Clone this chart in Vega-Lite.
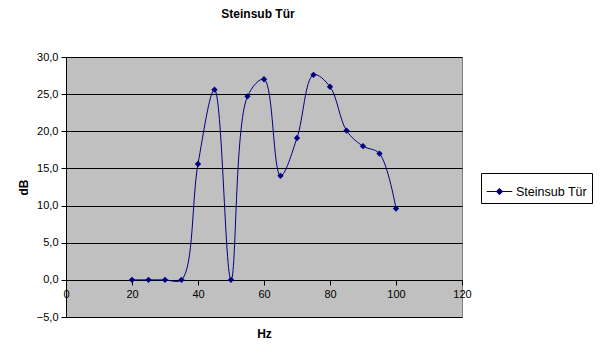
{
  "$schema": "https://vega.github.io/schema/vega-lite/v6.json",
  "width": 396,
  "height": 260,
  "autosize": {"type": "none"},
  "padding": {"left": 66, "top": 57, "right": 143, "bottom": 34},
  "background": "white",
  "title": {"text": "Steinsub Tür", "font": "Liberation Sans", "fontSize": 12, "fontWeight": "bold", "color": "black", "anchor": "middle", "offset": 30, "dx": -6},
  "config": {
    "view": {"fill": "#C0C0C0", "stroke": "#808080", "strokeWidth": 1},
    "axis": {"labelFont": "Liberation Sans", "labelFontSize": 11, "labelColor": "black", "titleFont": "Liberation Sans", "titleFontSize": 12, "titleFontWeight": "bold", "titleColor": "black", "domainColor": "black", "tickColor": "black", "tickSize": 5}
  },
  "data": {"values": [
    {"Hz": 20, "dB": 0, "Serie": "Steinsub Tür"},
    {"Hz": 25, "dB": 0, "Serie": "Steinsub Tür"},
    {"Hz": 30, "dB": 0, "Serie": "Steinsub Tür"},
    {"Hz": 35, "dB": 0, "Serie": "Steinsub Tür"},
    {"Hz": 40, "dB": 15.6, "Serie": "Steinsub Tür"},
    {"Hz": 45, "dB": 25.6, "Serie": "Steinsub Tür"},
    {"Hz": 50, "dB": 0, "Serie": "Steinsub Tür"},
    {"Hz": 55, "dB": 24.7, "Serie": "Steinsub Tür"},
    {"Hz": 60, "dB": 27.0, "Serie": "Steinsub Tür"},
    {"Hz": 65, "dB": 14.0, "Serie": "Steinsub Tür"},
    {"Hz": 70, "dB": 19.1, "Serie": "Steinsub Tür"},
    {"Hz": 75, "dB": 27.6, "Serie": "Steinsub Tür"},
    {"Hz": 80, "dB": 26.0, "Serie": "Steinsub Tür"},
    {"Hz": 85, "dB": 20.1, "Serie": "Steinsub Tür"},
    {"Hz": 90, "dB": 18.0, "Serie": "Steinsub Tür"},
    {"Hz": 95, "dB": 17.0, "Serie": "Steinsub Tür"},
    {"Hz": 100, "dB": 9.6, "Serie": "Steinsub Tür"}
  ]},
  "encoding": {
    "x": {"field": "Hz", "type": "quantitative", "scale": {"domain": [0, 120], "nice": false},
      "axis": {"title": "Hz", "values": [0, 20, 40, 60, 80, 100, 120], "grid": false, "offset": -37, "titlePadding": 29, "labelOverlap": false, "labelBound": false, "labelFlush": false, "labelPadding": 3}},
    "y": {"field": "dB", "type": "quantitative", "scale": {"domain": [-5, 30], "nice": false, "zero": false},
      "axis": {"title": "dB", "values": [-5, 0, 5, 10, 15, 20, 25, 30], "grid": true, "gridColor": "black", "gridOpacity": 1, "gridWidth": 1, "labelExpr": "replace(format(datum.value, '.1f'), '.', ',')", "titlePadding": 6, "labelPadding": 3}}
  },
  "layer": [
    {"mark": {"type": "line", "interpolate": "catmull-rom", "strokeWidth": 1, "color": "#000080"},
      "encoding": {"color": {"field": "Serie", "type": "nominal", "scale": {"range": ["#000080"]},
        "legend": {"title": null, "orient": "none", "legendX": 415, "legendY": 116, "strokeColor": "black", "fillColor": "white", "padding": 5, "labelFont": "Liberation Sans", "labelFontSize": 12.5, "labelColor": "black", "symbolType": "M-1,0H1M0,-0.25L0.25,0L0,0.25L-0.25,0Z", "symbolSize": 650, "symbolFillColor": "#000080", "symbolStrokeColor": "#000080", "symbolStrokeWidth": 1, "labelOffset": 3}}}},
    {"mark": {"type": "point", "shape": "diamond", "filled": true, "size": 40, "color": "#000080", "opacity": 1}}
  ]
}
